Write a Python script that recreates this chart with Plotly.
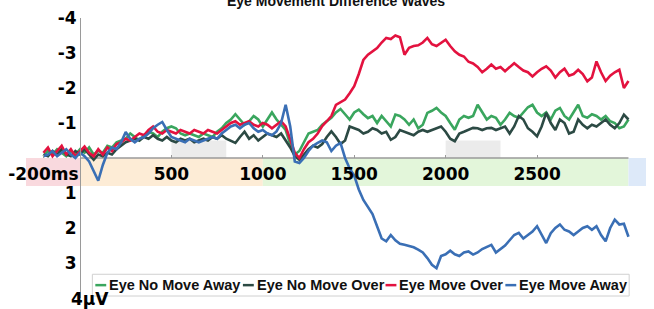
import plotly.graph_objects as go

# ---------------- data (µV, 25 ms steps from -200 ms to 3000 ms) ----------------
T0, DT = -200, 25

eye_no_move_away = [
    -0.05, -0.2, -0.1, -0.25, -0.15, -0.05, -0.2, -0.1,
    -0.25, -0.15, -0.3, -0.1, -0.2, -0.15, -0.35, -0.3,
    -0.45, -0.5, -0.55, -0.7, -0.6, -0.5, -0.65, -0.75,
    -0.7, -0.6, -0.75, -0.85, -0.9, -0.85, -0.7, -0.65,
    -0.7, -0.65, -0.6, -0.7, -0.65, -0.6, -0.75, -0.85,
    -1.0, -1.1, -1.25, -1.1, -0.95, -1.05, -1.2, -1.1,
    -0.9, -1.1, -1.3, -1.1, -0.95, -0.8, -0.4, -0.1,
    -0.2, -0.45, -0.7, -0.75, -0.8, -0.95, -1.05, -1.15,
    -1.3, -1.4, -1.25, -1.1, -1.3, -1.38, -1.25, -1.14,
    -1.2, -1.0, -1.2, -1.05, -0.9, -1.24, -1.2, -1.1,
    -0.95, -1.1, -0.85, -0.95, -1.29, -1.35, -1.43, -1.3,
    -1.2, -1.0, -0.81, -1.1, -1.2, -1.15, -1.2, -1.52,
    -1.3, -1.1, -1.2, -1.15, -0.95, -1.1, -1.29, -1.2,
    -1.15, -1.3, -1.45, -1.52, -1.3, -1.2, -1.3, -1.1,
    -1.35, -1.43, -1.2, -1.1, -1.3, -1.52, -1.2, -1.15,
    -1.25, -1.2, -1.1, -1.2, -1.05, -1.0, -0.85, -0.9,
    -1.1,
]

eye_no_move_over = [
    -0.1, -0.05, -0.2, -0.1, -0.25, -0.1, -0.05, -0.2,
    -0.1, -0.25, -0.1, 0.05, -0.1, -0.05, -0.15, -0.1,
    -0.25, -0.35, -0.45, -0.5, -0.55, -0.5, -0.6, -0.55,
    -0.65, -0.55, -0.5, -0.6, -0.5, -0.45, -0.55, -0.5,
    -0.55, -0.45, -0.5, -0.55, -0.5, -0.6, -0.55, -0.65,
    -0.55, -0.5, -0.43, -0.6, -0.75, -0.55, -0.65, -0.5,
    -0.6, -0.7, -0.65, -0.6, -0.7, -0.5, -0.3, -0.05,
    0.05, -0.1, -0.25, -0.35, -0.3, -0.4, -0.6, -0.76,
    -0.6, -0.4, -0.5, -0.9, -0.85, -0.8, -0.7, -0.75,
    -0.85, -0.8, -0.7, -0.75, -0.52, -0.6, -0.8, -0.75,
    -0.7, -0.65, -0.75, -0.8, -0.75, -0.8, -0.85, -0.9,
    -0.75, -0.55, -0.48, -0.7, -0.75, -0.8, -0.86, -0.85,
    -0.8, -0.85, -0.86, -0.8, -0.85, -0.9, -0.7, -0.9,
    -1.2, -1.1, -0.85, -0.75, -0.62, -0.9, -1.29, -1.0,
    -0.8, -1.1, -1.0, -0.7, -0.75, -1.1, -0.95, -0.85,
    -0.95, -0.9, -1.0, -1.1, -0.95, -0.85, -1.0, -1.24,
    -1.1,
]

eye_move_over = [
    -0.15, -0.3, -0.05, -0.2, -0.35, -0.1, -0.25, -0.05,
    -0.2, -0.33, -0.15, -0.05, -0.25, -0.1, -0.3, -0.2,
    -0.4, -0.45, -0.55, -0.5, -0.6, -0.7, -0.65, -0.8,
    -0.9, -0.75, -0.7, -0.8, -0.75, -0.7, -0.8, -0.75,
    -0.7, -0.8, -0.75, -0.7, -0.8, -0.75, -0.7, -0.8,
    -0.9, -1.0, -1.05, -0.95, -1.0, -1.05, -0.95, -0.9,
    -1.0, -0.95, -0.85, -0.95, -1.05, -0.9, -0.5, -0.15,
    0.0, -0.25, -0.45, -0.55, -0.7, -0.91, -1.05, -1.2,
    -1.52, -1.6, -1.67, -1.85, -2.05, -2.4, -2.8, -2.95,
    -3.05, -3.14, -3.3, -3.43, -3.4, -3.5, -3.45, -2.95,
    -3.15, -3.2, -3.22, -3.3, -3.43, -3.25, -3.2, -3.3,
    -3.38, -3.2, -3.05, -2.95, -2.9, -2.75, -2.7, -2.6,
    -2.45, -2.55, -2.67, -2.55, -2.6, -2.48, -2.6, -2.71,
    -2.6, -2.5, -2.45, -2.33, -2.45, -2.55, -2.62, -2.5,
    -2.3, -2.45, -2.55, -2.35, -2.4, -2.52, -2.4, -2.19,
    -2.3, -2.76, -2.45, -2.2, -2.35, -2.45, -2.52, -2.0,
    -2.2,
]

eye_move_away = [
    -0.05, -0.1, -0.2, -0.05, -0.15, -0.25, -0.1, 0.0,
    -0.15, -0.05, 0.1, 0.4, 0.65, 0.2, -0.15, -0.3,
    -0.25, -0.45, -0.74, -0.55, -0.45, -0.55, -0.6, -0.7,
    -0.85, -0.95, -1.03, -0.8, -0.6, -0.55, -0.5, -0.45,
    -0.55, -0.5, -0.45, -0.5, -0.55, -0.6, -0.55, -0.7,
    -0.8, -0.9, -0.95, -0.85, -0.95, -1.0, -0.85, -0.75,
    -0.8, -0.7, -0.65, -0.76, -1.0, -1.52, -0.9, 0.1,
    0.14, 0.0, -0.2, -0.35, -0.43, -0.5, -0.45, -0.2,
    -0.35, -0.43, 0.0, 0.3, 0.5, 0.9, 1.2, 1.4,
    1.6, 1.95, 2.3, 2.38, 2.2, 2.35, 2.45, 2.48,
    2.52, 2.55, 2.62, 2.7, 2.86, 3.05, 3.15, 2.8,
    2.75, 2.65, 2.75, 2.8, 2.7, 2.67, 2.76, 2.7,
    2.6, 2.55, 2.48, 2.7, 2.6, 2.5, 2.35, 2.2,
    2.14, 2.3, 2.2, 2.1, 1.95, 2.2, 2.43, 2.15,
    2.0, 1.9, 2.05, 2.1, 2.2, 2.1, 2.0, 1.95,
    2.05, 1.95, 2.2, 2.38, 2.0, 1.76, 1.9, 1.88,
    2.25,
]

series_names = ["Eye No Move Away", "Eye No Move Over", "Eye Move Over", "Eye Move Away"]
series_values = [eye_no_move_away, eye_no_move_over, eye_move_over, eye_move_away]
series_colors = ["#3aa65e", "#2c4a44", "#e3123f", "#3a6fb5"]

x_tick_vals = [-200, 500, 1000, 1500, 2000, 2500]
x_tick_text = ["-200ms", "500", "1000", "1500", "2000", "2500"]
y_tick_vals = [-4, -3, -2, -1, 1, 2, 3]
y_tick_text = ["-4", "-3", "-2", "-1", "1", "2", "3"]
y_bottom_label = "4μV"

# epoch bands below the axis (ms) and analysis windows above it
band_edges = [-400, 0, 1000, 3000, 3200]
band_colors = ["#f9d9de", "#fdecd6", "#e3f6da", "#dde9f9"]
windows = [(500, 800), (2000, 2300)]

# ---------------- layout geometry ----------------
W, H = 654, 309
ML, MR, MT, MB = 20, 8, 15, 11
PW, PH = W - ML - MR, H - MT - MB
X0_PX = 74.5          # pixel of 0 ms
PX_PER_MS = 0.1846
xr = [(ML - X0_PX) / PX_PER_MS, (W - MR - X0_PX) / PX_PER_MS]


def px(xp):
    return (xp - ML) / PW


def py(yp):
    return (H - MB - yp) / PH


FONT = "DejaVu Sans"
LFONT = "Liberation Sans, Arial, sans-serif"

fig = go.Figure()

shapes = []
for i, c in enumerate(band_colors):
    shapes.append(dict(type="rect", xref="x", yref="y", x0=max(band_edges[i], xr[0]),
                       x1=min(band_edges[i + 1], xr[1]), y0=0, y1=0.8,
                       fillcolor=c, line=dict(width=0), layer="below"))
for a, b in windows:
    shapes.append(dict(type="rect", xref="x", yref="y", x0=a, x1=b, y0=-0.5, y1=0,
                       fillcolor="#ebebeb", line=dict(width=0), layer="below"))
shapes.append(dict(type="line", xref="x", yref="y", x0=0, x1=3000, y0=0, y1=0,
                   line=dict(color="#9a9a9a", width=1.5), layer="below"))

for name, vals, col in zip(series_names, series_values, series_colors):
    times = [T0 + DT * i for i in range(len(vals))]
    fig.add_trace(go.Scatter(x=times, y=vals, mode="lines", name=name,
                             line=dict(color=col, width=2.6), showlegend=False))

# manual legend
leg_x0, leg_x1, leg_y0, leg_y1 = 87, 629, 274, 296
shapes.append(dict(type="rect", xref="paper", yref="paper", x0=px(leg_x0), x1=px(leg_x1),
                   y0=py(leg_y1), y1=py(leg_y0), fillcolor="white",
                   line=dict(color="#d0d0d0", width=1)))
annotations = []
leg_starts = [90, 239, 383, 504]
ly = (leg_y0 + leg_y1) / 2
for name, col, xs in zip(series_names, series_colors, leg_starts):
    shapes.append(dict(type="line", xref="paper", yref="paper", x0=px(xs), x1=px(xs + 11),
                       y0=py(ly), y1=py(ly), line=dict(color=col, width=2.5)))
    annotations.append(dict(text=name, xref="paper", yref="paper", x=px(xs + 12), y=py(ly),
                            xanchor="left", yanchor="middle", showarrow=False,
                            font=dict(family=LFONT, size=14.5, color="#111", weight="bold")))

annotations.append(dict(text=y_bottom_label, xref="paper", yref="paper", x=px(63), y=py(299),
                        xanchor="left", yanchor="middle", showarrow=False,
                        font=dict(family=FONT, size=17, color="black", weight="bold")))
annotations.append(dict(text="Eye Movement Difference Waves", xref="paper", yref="paper",
                        x=px(333), y=py(-2), xanchor="center", yanchor="middle",
                        showarrow=False,
                        font=dict(family=LFONT, size=14, color="#111", weight="bold")))

fig.update_layout(
    width=W, height=H, margin=dict(l=ML, r=MR, t=MT, b=MB),
    paper_bgcolor="white", plot_bgcolor="white",
    shapes=shapes, annotations=annotations,
    xaxis=dict(range=xr, showgrid=False, zeroline=False, showline=False,
               anchor="free", position=py(156.5), tickmode="array",
               tickvals=x_tick_vals, ticktext=x_tick_text,
               ticks="inside", ticklen=3, tickcolor="#9a9a9a", ticklabelstandoff=4,
               tickfont=dict(family=FONT, size=17, color="black", weight="bold")),
    yaxis=dict(range=[4, -4], showgrid=False, zeroline=False, showline=True,
               linecolor="#9a9a9a", linewidth=1, anchor="free", position=px(X0_PX),
               tickmode="array", tickvals=y_tick_vals, ticktext=y_tick_text, ticks="",
               tickfont=dict(family=FONT, size=17, color="black", weight="bold")),
    showlegend=False,
)

fig.write_html("out.html")
